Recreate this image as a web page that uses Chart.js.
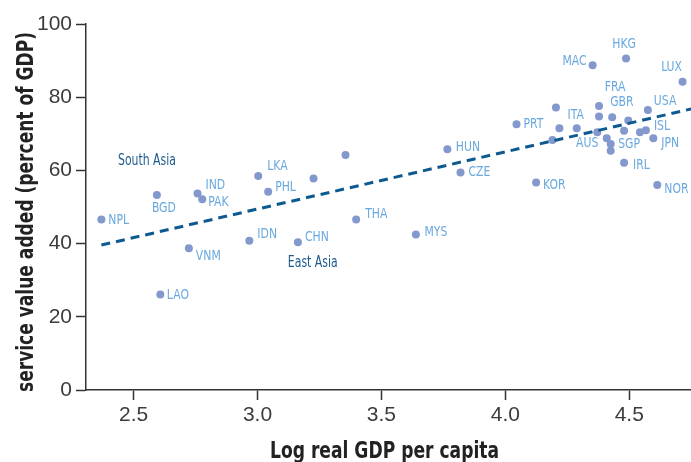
<!DOCTYPE html>
<html>
<head>
<meta charset="utf-8">
<script src="https://cdn.jsdelivr.net/npm/chart.js@4.4.1/dist/chart.umd.min.js"></script>
<style>
  html, body { margin: 0; padding: 0; background: #ffffff; }
  #wrap { width: 691px; height: 462px; position: relative; }
</style>
</head>
<body>
<div id="wrap"><canvas id="chart"></canvas></div>
<script>
// Countries ("" = unlabelled economy)
const countries = [
  'NPL', 'BGD', 'IND', 'PAK', 'VNM', 'LAO', 'IDN', 'LKA', 'PHL', '',
  '', 'CHN', 'THA', 'MYS', 'HUN', 'CZE', 'PRT', 'KOR', '', '',
  '', 'ITA', 'AUS', 'FRA', '', 'MAC', '', 'SGP', '', 'GBR',
  '', 'IRL', 'HKG', '', '', 'ISL', 'USA', 'JPN', 'NOR', 'LUX'
];
// Log real GDP per capita
const logGdp = [
  2.370, 2.594, 2.758, 2.777, 2.723, 2.608, 2.967, 3.003, 3.043, 3.226,
  3.355, 3.163, 3.398, 3.639, 3.766, 3.819, 4.045, 4.124, 4.190, 4.204,
  4.218, 4.288, 4.371, 4.378, 4.378, 4.352, 4.409, 4.425, 4.425, 4.431,
  4.479, 4.479, 4.487, 4.496, 4.543, 4.567, 4.575, 4.597, 4.613, 4.715
];
// Services value added, percent of GDP
const serviceShare = [
  46.6, 53.3, 53.7, 52.1, 38.7, 26.1, 40.8, 58.5, 54.2, 57.8,
  64.2, 40.4, 46.6, 42.5, 65.8, 59.4, 72.6, 56.7, 68.3, 77.2,
  71.5, 71.5, 70.4, 77.6, 74.7, 88.7, 68.8, 67.2, 65.4, 74.5,
  70.8, 62.1, 90.6, 73.6, 70.4, 71.0, 76.5, 68.8, 56.0, 84.2
];
// Fitted trend line end points
const trendX = [2.37, 4.75];
const trendY = [39.6, 76.8];
// Regional group captions
const regionNames = ['South Asia', 'East Asia'];
const regionX = [2.554, 3.223];
const regionY = [62.65, 34.6];
// Axis ticks and titles
const xTicks = [2.5, 3.0, 3.5, 4.0, 4.5];
const yTicks = [0, 20, 40, 60, 80, 100];
const xTitle = 'Log real GDP per capita';
const yTitle = 'service value added (percent of GDP)';

const LABEL_COLOR = '#6aa9de';
const REGION_COLOR = '#1d5b8e';
const POINT_COLOR = '#8398cc';
const AXIS_COLOR = '#333333';
const NARROW = '"Liberation Sans Narrow", "DejaVu Sans Condensed", sans-serif';

// Placement of each country code relative to its marker: [dx, dy, align]
const labelPlacement = {
  NPL: [7, 1, 'left'],   BGD: [7, 13, 'center'], IND: [8, -8, 'left'],
  PAK: [6, 3, 'left'],   VNM: [7, 8, 'left'],    LAO: [6.5, 1, 'left'],
  IDN: [8, -6, 'left'],  LKA: [9, -9.5, 'left'], PHL: [7, -4, 'left'],
  THA: [9, -5, 'left'],  MYS: [8.5, -2, 'left'], CHN: [7, -5, 'left'],
  HUN: [8.5, -2, 'left'], CZE: [8, 0, 'left'],   PRT: [7, 0, 'left'],
  KOR: [7, 3, 'left'],   ITA: [-1, -13, 'center'], MAC: [-6, -4, 'right'],
  HKG: [-2, -14, 'center'], LUX: [-11, -14, 'center'], FRA: [16, -19, 'center'],
  GBR: [-2, -15, 'left'], USA: [6, -9, 'left'],  ISL: [8, -4, 'left'],
  JPN: [8, 5, 'left'],   AUS: [1, 11, 'right'],  SGP: [7.5, 0, 'left'],
  IRL: [9, 3, 'left'],   NOR: [7, 4, 'left']
};

// Draws condensed text: squeezes the font horizontally by factor sx
function condensedText(ctx, text, x, y, sx, align, rotate) {
  ctx.save();
  ctx.translate(x, y);
  if (rotate) ctx.rotate(-Math.PI / 2);
  ctx.scale(sx, 1);
  ctx.textAlign = align;
  ctx.fillText(text, 0, 0);
  ctx.restore();
}

const annotations = {
  id: 'annotations',
  afterDatasetsDraw(chart) {
    const ctx = chart.ctx;
    const meta = chart.getDatasetMeta(1);
    const xs = chart.scales.x, ys = chart.scales.y;
    ctx.save();

    // country codes
    ctx.textBaseline = 'middle';
    ctx.font = '14px ' + NARROW;
    ctx.fillStyle = LABEL_COLOR;
    const codeSx = 20.7 / ctx.measureText('NPL').width;
    meta.data.forEach((pt, i) => {
      const code = countries[i];
      if (!code || !labelPlacement[code]) return;
      const [dx, dy, align] = labelPlacement[code];
      condensedText(ctx, code, pt.x + dx, pt.y + dy, codeSx, align, false);
    });

    // region captions
    ctx.font = '15px ' + NARROW;
    ctx.fillStyle = REGION_COLOR;
    const regSx = 58 / ctx.measureText('South Asia').width;
    regionNames.forEach((name, i) => {
      condensedText(ctx, name, xs.getPixelForValue(regionX[i]), ys.getPixelForValue(regionY[i]), regSx, 'center', false);
    });

    // axis titles
    ctx.textBaseline = 'alphabetic';
    ctx.font = 'bold 23px ' + NARROW;
    ctx.fillStyle = '#222222';
    const xSx = 229 / ctx.measureText(xTitle).width;
    condensedText(ctx, xTitle, (xs.left + xs.right) / 2 - 4, 458, xSx, 'center', false);
    const ySx = 360 / ctx.measureText(yTitle).width;
    condensedText(ctx, yTitle, 33, (ys.top + ys.bottom) / 2 + 5, ySx, 'center', true);

    ctx.restore();
  }
};

const tickFont = { family: '"Liberation Sans", Arial, sans-serif', size: 21 };

new Chart(document.getElementById('chart'), {
  data: {
    datasets: [
      {
        type: 'line',
        data: trendX.map((x, i) => ({ x, y: trendY[i] })),
        borderColor: '#0d5a91',
        borderWidth: 3,
        borderDash: [9, 6],
        pointRadius: 0,
        fill: false
      },
      {
        type: 'scatter',
        data: logGdp.map((x, i) => ({ x, y: serviceShare[i] })),
        backgroundColor: POINT_COLOR,
        borderWidth: 0,
        pointRadius: 4,
        clip: false
      }
    ]
  },
  options: {
    responsive: true,
    maintainAspectRatio: false,
    animation: false,
    layout: { autoPadding: false, padding: { top: 24, right: 0, left: 0, bottom: 0 } },
    plugins: { legend: { display: false }, tooltip: { enabled: false } },
    scales: {
      x: {
        type: 'linear',
        min: 2.308,
        max: 4.749,
        afterBuildTicks: s => { s.ticks = xTicks.map(v => ({ value: v })); },
        afterFit: s => { s.height = 72; },
        ticks: {
          callback: v => Number(v).toFixed(1),
          font: tickFont, color: '#3c3c3c', padding: 3,
          maxRotation: 0, autoSkip: false
        },
        grid: { display: true, drawOnChartArea: false, drawTicks: true, tickLength: 10, tickColor: AXIS_COLOR, tickWidth: 1.5 },
        border: { display: true, color: AXIS_COLOR, width: 1.5 },
        title: { display: false }
      },
      y: {
        type: 'linear',
        min: 0,
        max: 100,
        afterBuildTicks: s => { s.ticks = yTicks.map(v => ({ value: v })); },
        afterFit: s => { s.width = 86; },
        ticks: { font: tickFont, color: '#3c3c3c', padding: 4, autoSkip: false },
        grid: { display: true, drawOnChartArea: false, drawTicks: true, tickLength: 10, tickColor: AXIS_COLOR, tickWidth: 1.5 },
        border: { display: true, color: AXIS_COLOR, width: 1.5 },
        title: { display: false }
      }
    }
  },
  plugins: [annotations]
});
</script>
</body>
</html>
